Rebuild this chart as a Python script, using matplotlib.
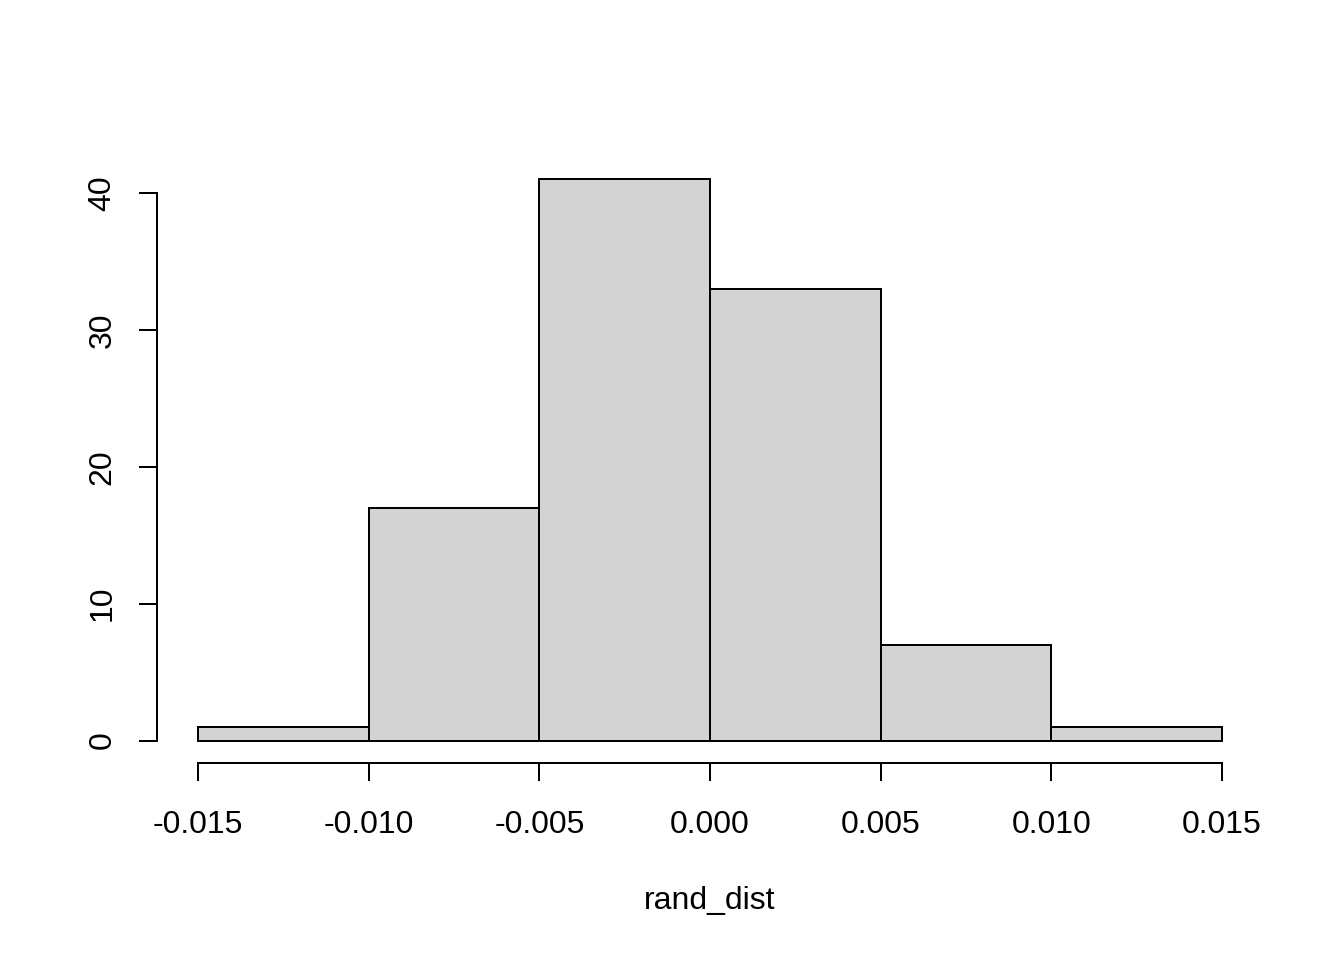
import matplotlib
matplotlib.use("Agg")
import matplotlib.pyplot as plt

plt.rcParams['font.family'] = ['Liberation Sans', 'DejaVu Sans']

# histogram of rand_dist
bin_edges = [-0.015, -0.010, -0.005, 0.000, 0.005, 0.010, 0.015]
counts = [1, 17, 41, 33, 7, 1]
x_ticks = [-0.015, -0.010, -0.005, 0.000, 0.005, 0.010, 0.015]
y_ticks = [0, 10, 20, 30, 40]

fig = plt.figure(figsize=(7, 5), dpi=192)
ax = fig.add_axes([157 / 1344, 1 - 763 / 960, (1263 - 157) / 1344, (763 - 157) / 960])

widths = [bin_edges[i + 1] - bin_edges[i] for i in range(len(counts))]
ax.bar(bin_edges[:-1], counts, width=widths, align='edge',
       color='#D3D3D3', edgecolor='black', linewidth=0.75)

# R style: axis range padded by 4% each side
span = bin_edges[-1] - bin_edges[0]
ax.set_xlim(bin_edges[0] - 0.04 * span, bin_edges[-1] + 0.04 * span)
ymax = max(counts)
ax.set_ylim(-0.04 * ymax, ymax * 1.04)

for s in ['top', 'right']:
    ax.spines[s].set_visible(False)
ax.spines['left'].set_bounds(y_ticks[0], y_ticks[-1])
ax.spines['bottom'].set_bounds(x_ticks[0], x_ticks[-1])
ax.spines['left'].set_linewidth(0.75)
ax.spines['bottom'].set_linewidth(0.75)

ax.set_xticks(x_ticks)
ax.set_xticklabels([f"{v:.3f}" for v in x_ticks])
ax.set_yticks(y_ticks)
ax.set_yticklabels([str(v) for v in y_ticks], rotation=90, va='center')
ax.tick_params(axis='both', length=6.75, width=0.75, labelsize=12)
ax.tick_params(axis='x', pad=11)
ax.tick_params(axis='y', pad=8)

fig.text(710 / 1344, 1 - 901 / 960, "rand_dist", ha='center', va='center', fontsize=12)

fig.savefig("out.png", dpi=192, facecolor='white')
